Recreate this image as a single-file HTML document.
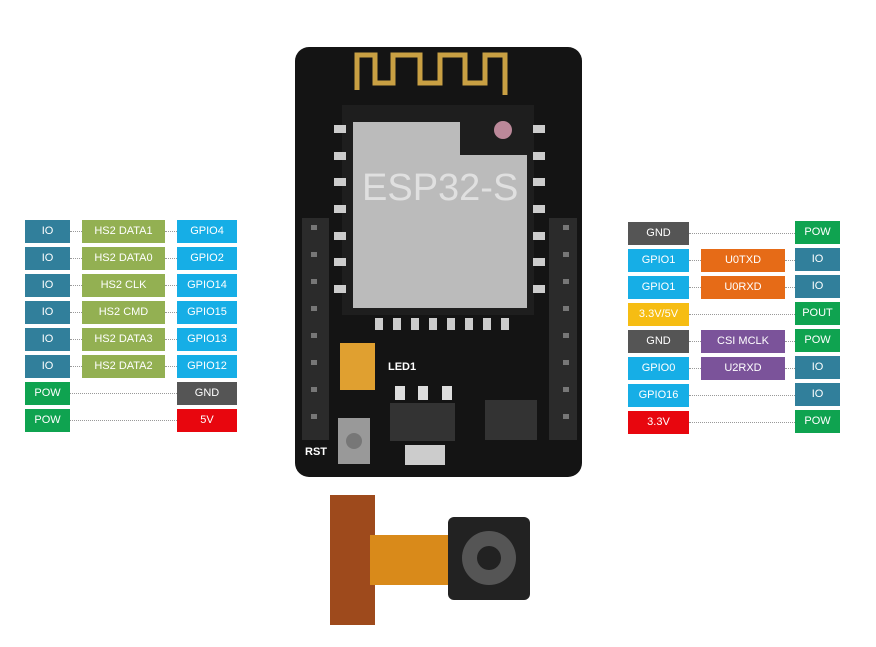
<!DOCTYPE html>
<html><head><style>
body{margin:0;width:876px;height:647px;background:#fff;position:relative;overflow:hidden;font-family:"Liberation Sans",sans-serif}
.b{position:absolute;height:23px;line-height:23px;color:#fff;font-size:11px;text-align:center}
.d{position:absolute;height:0;border-top:1px dotted #999}
.io{background:#317f9b}.hs{background:#93b052}.gp{background:#16aee6}.pw{background:#0fa350}.gn{background:#555}.rd{background:#e8060e}.or{background:#e66b17}.pu{background:#7b539a}.ye{background:#f6bd13}
</style></head><body>
<svg width="876" height="647" style="position:absolute;left:0;top:0">
<rect x="295" y="47" width="287" height="430" rx="14" fill="#141414"/>
<polyline points="357,90 357,55 375,55 375,83 393,83 393,55 420,55 420,83 440,83 440,55 465,55 465,83 485,83 485,55 505,55 505,95" fill="none" stroke="#c9a043" stroke-width="5"/>
<rect x="342" y="105" width="192" height="210" fill="#1e1e1e"/>
<path d="M353,122 H460 V155 H527 V308 H353 Z" fill="#bbb"/>
<circle cx="503" cy="130" r="9" fill="#b89"/>
<text x="362" y="200" font-size="38" fill="#e0e0e0" font-family="Liberation Sans">ESP32-S</text>
<g fill="#ccc">
<rect x="334" y="125" width="12" height="8"/><rect x="334" y="152" width="12" height="8"/><rect x="334" y="178" width="12" height="8"/><rect x="334" y="205" width="12" height="8"/><rect x="334" y="232" width="12" height="8"/><rect x="334" y="258" width="12" height="8"/><rect x="334" y="285" width="12" height="8"/>
<rect x="533" y="125" width="12" height="8"/><rect x="533" y="152" width="12" height="8"/><rect x="533" y="178" width="12" height="8"/><rect x="533" y="205" width="12" height="8"/><rect x="533" y="232" width="12" height="8"/><rect x="533" y="258" width="12" height="8"/><rect x="533" y="285" width="12" height="8"/>
<rect x="375" y="318" width="8" height="12"/><rect x="393" y="318" width="8" height="12"/><rect x="411" y="318" width="8" height="12"/><rect x="429" y="318" width="8" height="12"/><rect x="447" y="318" width="8" height="12"/><rect x="465" y="318" width="8" height="12"/><rect x="483" y="318" width="8" height="12"/><rect x="501" y="318" width="8" height="12"/>
</g>
<rect x="302" y="218" width="27" height="222" fill="#2b2b2b"/>
<rect x="549" y="218" width="28" height="222" fill="#2b2b2b"/>
<g fill="#777">
<rect x="311" y="225" width="6" height="5"/><rect x="311" y="252" width="6" height="5"/><rect x="311" y="279" width="6" height="5"/><rect x="311" y="306" width="6" height="5"/><rect x="311" y="333" width="6" height="5"/><rect x="311" y="360" width="6" height="5"/><rect x="311" y="387" width="6" height="5"/><rect x="311" y="414" width="6" height="5"/>
<rect x="563" y="225" width="6" height="5"/><rect x="563" y="252" width="6" height="5"/><rect x="563" y="279" width="6" height="5"/><rect x="563" y="306" width="6" height="5"/><rect x="563" y="333" width="6" height="5"/><rect x="563" y="360" width="6" height="5"/><rect x="563" y="387" width="6" height="5"/><rect x="563" y="414" width="6" height="5"/>
</g>
<rect x="340" y="343" width="35" height="47" fill="#e0a030"/>
<rect x="390" y="403" width="65" height="38" fill="#333"/>
<rect x="395" y="386" width="10" height="14" fill="#ddd"/><rect x="418" y="386" width="10" height="14" fill="#ddd"/><rect x="442" y="386" width="10" height="14" fill="#ddd"/>
<rect x="405" y="445" width="40" height="20" fill="#ccc"/>
<rect x="485" y="400" width="52" height="40" fill="#333"/>
<rect x="338" y="418" width="32" height="46" fill="#999"/>
<circle cx="354" cy="441" r="8" fill="#777"/>
<text x="388" y="370" font-size="11" fill="#fff" font-weight="bold">LED1</text>
<text x="305" y="455" font-size="11" fill="#fff" font-weight="bold">RST</text>
<!-- camera -->
<rect x="330" y="495" width="45" height="130" fill="#9e4a1c"/>
<rect x="370" y="535" width="85" height="50" fill="#d98a1a"/>
<rect x="448" y="517" width="82" height="83" rx="6" fill="#222"/>
<circle cx="489" cy="558" r="27" fill="#555"/>
<circle cx="489" cy="558" r="12" fill="#222"/>
</svg>
<!-- left -->
<div class="b io" style="left:25px;top:220px;width:45px">IO</div><div class="b hs" style="left:82px;top:220px;width:83px">HS2 DATA1</div><div class="b gp" style="left:177px;top:220px;width:60px">GPIO4</div>
<div class="b io" style="left:25px;top:247px;width:45px">IO</div><div class="b hs" style="left:82px;top:247px;width:83px">HS2 DATA0</div><div class="b gp" style="left:177px;top:247px;width:60px">GPIO2</div>
<div class="b io" style="left:25px;top:274px;width:45px">IO</div><div class="b hs" style="left:82px;top:274px;width:83px">HS2 CLK</div><div class="b gp" style="left:177px;top:274px;width:60px">GPIO14</div>
<div class="b io" style="left:25px;top:301px;width:45px">IO</div><div class="b hs" style="left:82px;top:301px;width:83px">HS2 CMD</div><div class="b gp" style="left:177px;top:301px;width:60px">GPIO15</div>
<div class="b io" style="left:25px;top:328px;width:45px">IO</div><div class="b hs" style="left:82px;top:328px;width:83px">HS2 DATA3</div><div class="b gp" style="left:177px;top:328px;width:60px">GPIO13</div>
<div class="b io" style="left:25px;top:355px;width:45px">IO</div><div class="b hs" style="left:82px;top:355px;width:83px">HS2 DATA2</div><div class="b gp" style="left:177px;top:355px;width:60px">GPIO12</div>
<div class="b pw" style="left:25px;top:382px;width:45px">POW</div><div class="b gn" style="left:177px;top:382px;width:60px">GND</div>
<div class="b pw" style="left:25px;top:409px;width:45px">POW</div><div class="b rd" style="left:177px;top:409px;width:60px">5V</div>
<div class="d" style="left:70px;top:231px;width:12px"></div><div class="d" style="left:165px;top:231px;width:12px"></div>
<div class="d" style="left:70px;top:258px;width:12px"></div><div class="d" style="left:165px;top:258px;width:12px"></div>
<div class="d" style="left:70px;top:285px;width:12px"></div><div class="d" style="left:165px;top:285px;width:12px"></div>
<div class="d" style="left:70px;top:312px;width:12px"></div><div class="d" style="left:165px;top:312px;width:12px"></div>
<div class="d" style="left:70px;top:339px;width:12px"></div><div class="d" style="left:165px;top:339px;width:12px"></div>
<div class="d" style="left:70px;top:366px;width:12px"></div><div class="d" style="left:165px;top:366px;width:12px"></div>
<div class="d" style="left:70px;top:393px;width:107px"></div><div class="d" style="left:70px;top:420px;width:107px"></div>
<!-- right -->
<div class="b gn" style="left:628px;top:222px;width:61px">GND</div><div class="b pw" style="left:795px;top:221px;width:45px">POW</div>
<div class="b gp" style="left:628px;top:249px;width:61px">GPIO1</div><div class="b or" style="left:701px;top:249px;width:84px">U0TXD</div><div class="b io" style="left:795px;top:248px;width:45px">IO</div>
<div class="b gp" style="left:628px;top:276px;width:61px">GPIO1</div><div class="b or" style="left:701px;top:276px;width:84px">U0RXD</div><div class="b io" style="left:795px;top:275px;width:45px">IO</div>
<div class="b ye" style="left:628px;top:303px;width:61px">3.3V/5V</div><div class="b pw" style="left:795px;top:302px;width:45px">POUT</div>
<div class="b gn" style="left:628px;top:330px;width:61px">GND</div><div class="b pu" style="left:701px;top:330px;width:84px">CSI MCLK</div><div class="b pw" style="left:795px;top:329px;width:45px">POW</div>
<div class="b gp" style="left:628px;top:357px;width:61px">GPIO0</div><div class="b pu" style="left:701px;top:357px;width:84px">U2RXD</div><div class="b io" style="left:795px;top:356px;width:45px">IO</div>
<div class="b gp" style="left:628px;top:384px;width:61px">GPIO16</div><div class="b io" style="left:795px;top:383px;width:45px">IO</div>
<div class="b rd" style="left:628px;top:411px;width:61px">3.3V</div><div class="b pw" style="left:795px;top:410px;width:45px">POW</div>
<div class="d" style="left:689px;top:233px;width:106px"></div>
<div class="d" style="left:689px;top:260px;width:12px"></div><div class="d" style="left:785px;top:260px;width:10px"></div>
<div class="d" style="left:689px;top:287px;width:12px"></div><div class="d" style="left:785px;top:287px;width:10px"></div>
<div class="d" style="left:689px;top:314px;width:106px"></div>
<div class="d" style="left:689px;top:341px;width:12px"></div><div class="d" style="left:785px;top:341px;width:10px"></div>
<div class="d" style="left:689px;top:368px;width:12px"></div><div class="d" style="left:785px;top:368px;width:10px"></div>
<div class="d" style="left:689px;top:395px;width:106px"></div><div class="d" style="left:689px;top:422px;width:106px"></div>
</body></html>
